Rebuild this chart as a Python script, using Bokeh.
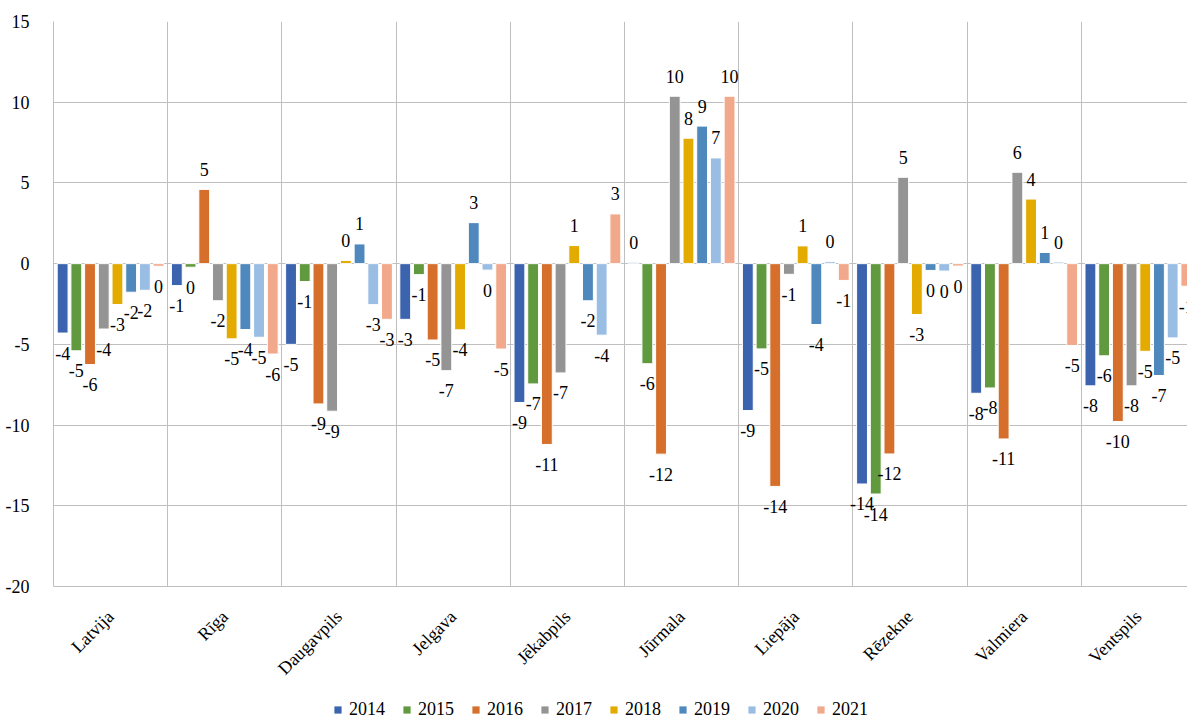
import numpy as np
from bokeh.plotting import figure
from bokeh.layouts import column
from bokeh.models import ColumnDataSource, Range1d, FixedTicker, Legend, LegendItem
from bokeh.core.properties import value
from bokeh.embed import file_html
from bokeh.resources import INLINE

categories = ["Latvija", "Rīga", "Daugavpils", "Jelgava", "Jēkabpils",
              "Jūrmala", "Liepāja", "Rēzekne", "Valmiera", "Ventspils"]
years = ["2014", "2015", "2016", "2017", "2018", "2019", "2020", "2021"]

v2014 = [-4.3, -1.36, -5.0, -3.45, -8.6, 0.08, -9.1, -13.65, -8.03, -7.57]
v2015 = [-5.4, -0.22, -1.11, -0.68, -7.45, -6.2, -5.28, -14.27, -7.7, -5.71]
v2016 = [-6.25, 4.6, -8.69, -4.73, -11.2, -11.8, -13.8, -11.79, -10.86, -9.78]
v2017 = [-4.05, -2.3, -9.14, -6.63, -6.77, 10.37, -0.66, 5.35, 5.66, -7.57]
v2018 = [-2.53, -4.66, 0.2, -4.1, 1.12, 7.77, 1.1, -3.15, 4.0, -5.43]
v2019 = [-1.77, -4.08, 1.22, 2.54, -2.3, 8.52, -3.77, -0.42, 0.69, -6.93]
v2020 = [-1.65, -4.56, -2.54, -0.4, -4.43, 6.55, 0.12, -0.46, 0.1, -4.6]
v2021 = [-0.16, -5.6, -3.45, -5.29, 3.08, 10.37, -1.04, -0.15, -5.07, -1.4]
series = [v2014, v2015, v2016, v2017, v2018, v2019, v2020, v2021]

colors = ["#3c63ae", "#619a3e", "#d56f2b", "#949494",
          "#e3ab00", "#4e88bd", "#99bde3", "#f2a88b"]

y_ticks = [-20, -15, -10, -5, 0, 5, 10, 15]

FONT = "Times"
GRID = "#bfbfbf"

step = 0.12
bar_w = 0.095


def fmt(v):
    r = int(np.floor(abs(v) + 0.5))
    if r == 0:
        return "0"
    return ("-" if v < 0 else "") + str(r)


p = figure(width=1187, height=696, output_backend="svg", toolbar_location=None,
           x_range=Range1d(0, 9.93), y_range=Range1d(-20, 15),
           min_border_left=53, min_border_right=0, min_border_top=21,
           min_border_bottom=110)
p.outline_line_color = None
p.background_fill_color = "white"
p.border_fill_color = "white"

for j, (yr, vals, col) in enumerate(zip(years, series, colors)):
    xs = [i + 0.5 + (j - 3.5) * step for i in range(len(categories))]
    src = ColumnDataSource(dict(
        x=xs, top=vals,
        label=[fmt(v) for v in vals],
        yoff=[20 if v < 0 else -20 for v in vals],
    ))
    p.vbar(x="x", top="top", bottom=0, width=bar_w, source=src,
           fill_color=col, line_color="white", line_width=1)
    p.text(x="x", y="top", text="label", y_offset="yoff", source=src,
           text_align="center", text_baseline="middle",
           text_font=value(FONT), text_font_size="18px", text_color="black")

# axes
p.yaxis.ticker = FixedTicker(ticks=y_ticks)
p.yaxis.major_label_overrides = {t: str(t) for t in y_ticks}
p.yaxis.major_tick_line_color = None
p.yaxis.minor_tick_line_color = None
p.yaxis.axis_line_color = GRID
p.yaxis.major_label_standoff = 18
p.yaxis.major_label_text_font = FONT
p.yaxis.major_label_text_font_size = "18px"
p.yaxis.major_label_text_color = "black"

p.xaxis.ticker = FixedTicker(ticks=[i + 0.5 for i in range(len(categories))])
p.xaxis.major_label_overrides = {i + 0.5: c for i, c in enumerate(categories)}
p.xaxis.major_label_orientation = np.pi / 4
p.xaxis.major_tick_line_color = None
p.xaxis.minor_tick_line_color = None
p.xaxis.axis_line_color = GRID
p.xaxis.major_label_standoff = 21
p.xaxis.major_label_text_font = FONT
p.xaxis.major_label_text_font_size = "18px"
p.xaxis.major_label_text_color = "black"

p.ygrid.ticker = FixedTicker(ticks=y_ticks)
p.ygrid.grid_line_color = GRID
p.xgrid.ticker = FixedTicker(ticks=list(range(len(categories) + 1)))
p.xgrid.grid_line_color = GRID

# legend strip below the chart
lf = figure(width=1187, height=24, output_backend="svg", toolbar_location=None,
            x_range=Range1d(0, 1), y_range=Range1d(0, 1),
            x_axis_type=None, y_axis_type=None,
            min_border_left=0, min_border_right=0, min_border_top=0,
            min_border_bottom=0)
lf.outline_line_color = None
lf.grid.visible = False
items = []
for yr, col in zip(years, colors):
    r = lf.vbar(x=[-10], top=[0], width=0.1, fill_color=col, line_color=None)
    items.append(LegendItem(label=yr, renderers=[r]))

legend = Legend(
    items=items, orientation="horizontal", location=(280, 0),
    label_text_font=FONT, label_text_font_size="18px", label_text_color="black",
    glyph_width=9, glyph_height=9, label_standoff=7, spacing=17,
    padding=0, margin=0, border_line_color=None, background_fill_alpha=0,
)
lf.add_layout(legend, "center")

layout = column(p, lf, spacing=0)
open("out.html", "w").write(file_html(layout, INLINE))
